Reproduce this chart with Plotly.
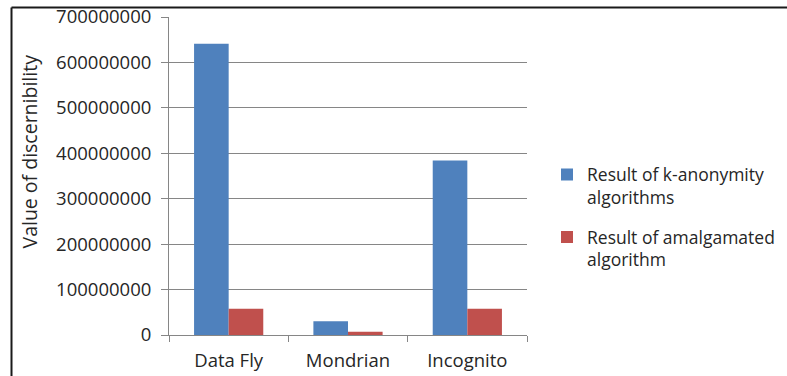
import plotly.graph_objects as go

categories = ["Data Fly", "Mondrian", "Incognito"]
k_anonymity = [641000000, 30000000, 384000000]
amalgamated = [58000000, 7000000, 58000000]
y_ticks = [0, 100000000, 200000000, 300000000, 400000000, 500000000, 600000000, 700000000]

W, H = 787, 376
L, R, T, B = 169, 260, 17, 41
pw, ph = W - L - R, H - T - B

def px_x(x):
    return (x - L) / pw

def px_y(y):
    return (H - B - y) / ph

font_family = "Open Sans, Liberation Sans, sans-serif"
text_color = "#262626"
axis_gray = "#868686"

fig = go.Figure()
fig.add_trace(go.Bar(x=categories, y=k_anonymity, name="Result of k-anonymity<br>algorithms",
                     legendgroup="k", marker=dict(color="#4F81BD", line=dict(width=0))))
fig.add_trace(go.Bar(x=categories, y=amalgamated, name="Result of amalgamated<br>algorithm",
                     legendgroup="a", marker=dict(color="#C0504D", line=dict(width=0))))

fig.update_layout(
    width=W, height=H,
    margin=dict(l=L, r=R, t=T, b=B, autoexpand=False),
    paper_bgcolor="white", plot_bgcolor="white",
    barmode="group", bargap=0.42, bargroupgap=0,
    font=dict(family=font_family, size=18.5, color=text_color),
    showlegend=True,
    legend=dict(x=px_x(547), y=px_y(217), xanchor="left", yanchor="middle",
                valign="top", font=dict(size=17.5, color=text_color), tracegroupgap=14,
                itemwidth=30, bgcolor="rgba(0,0,0,0)"),
)

fig.update_xaxes(
    showline=True, linecolor=axis_gray, linewidth=1,
    ticks="outside", tickson="boundaries", ticklen=6, tickcolor=axis_gray,
    ticklabelstandoff=9,
    showgrid=False, tickfont=dict(size=18.5, color=text_color),
)
fig.update_yaxes(
    range=[0, 700000000], tickvals=y_ticks, ticktext=[str(v) for v in y_ticks],
    showline=True, linecolor=axis_gray, linewidth=1,
    ticks="outside", ticklen=7, tickcolor=axis_gray,
    ticklabelstandoff=6,
    showgrid=True, gridcolor=axis_gray, gridwidth=1,
    zeroline=False, tickfont=dict(size=18.5, color=text_color),
)

fig.add_annotation(text="Value of discernibility", xref="paper", yref="paper",
                   x=px_x(28.5), y=px_y(152), textangle=-90, showarrow=False,
                   xanchor="center", yanchor="middle",
                   font=dict(size=19.5, color=text_color))

# frame lines along the top and left of the chart area
fig.add_shape(type="line", xref="paper", yref="paper",
              x0=px_x(11.5), x1=px_x(787), y0=px_y(7.5), y1=px_y(7.5),
              line=dict(color="#1a1a1a", width=2))
fig.add_shape(type="line", xref="paper", yref="paper",
              x0=px_x(11.5), x1=px_x(11.5), y0=px_y(7.5), y1=px_y(376),
              line=dict(color="#1a1a1a", width=2))

fig.write_html("out.html")
